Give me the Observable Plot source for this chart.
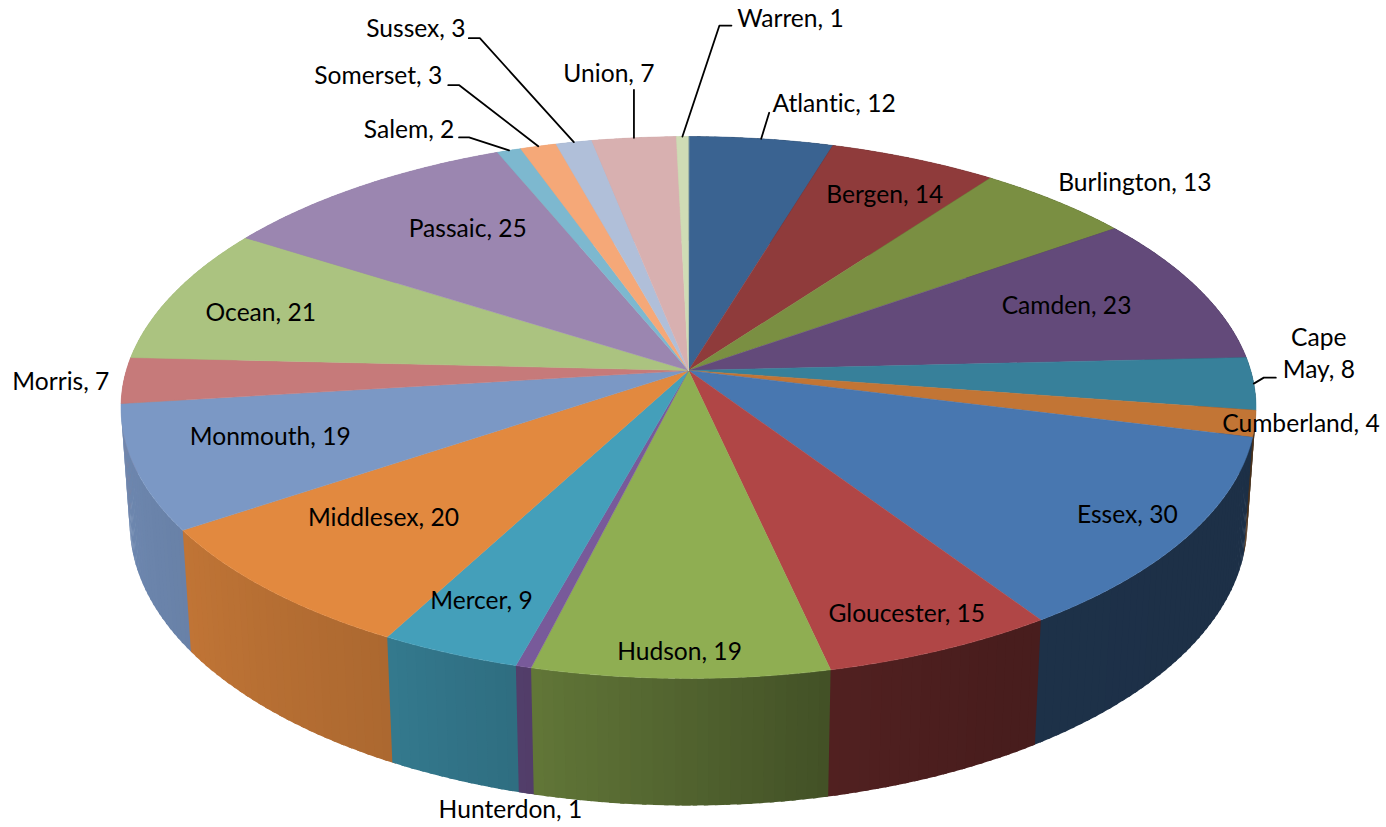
<!DOCTYPE html>
<html><head><meta charset="utf-8">
<style>html,body{margin:0;padding:0;background:#fff}svg{display:block}svg text{font-variant-ligatures:none}</style>
<script src="https://cdn.jsdelivr.net/npm/d3@7"></script>
<script src="https://cdn.jsdelivr.net/npm/@observablehq/plot@0.6"></script>
</head><body>
<script>
const counties = ["Atlantic","Bergen","Burlington","Camden","Cape May","Cumberland","Essex","Gloucester","Hudson","Hunterdon","Mercer","Middlesex","Monmouth","Morris","Ocean","Passaic","Salem","Somerset","Sussex","Union","Warren"];
const counts = [12,14,13,23,8,4,30,15,19,1,9,20,19,7,21,25,2,3,3,7,1];
const colors = ["#3a6391","#8f3b3b","#7a8f42","#634a7a","#37809a","#c27535","#4877b0","#b04646","#8fae52","#785a9a","#449fba","#e2893f","#7b98c5","#c67a7a","#abc380","#9b86b0","#7db8cf","#f5a878","#b0bfd9","#d8b0b0","#cfdcb5"];
// label placement, as an offset from the rim point at each slice's middle
const labelDx = [73,-29,79,-131,65,46,-60,-35,-1,-13,32,115,135,-63,87,107,-100,-160,-158,-25,108];
const labelDy = [-37,34,-20,16,-32,-2,-24,-38,-29,141,-54,-74,-33,-1,17,40,-23,-72,-115,-66,-120];
const labelLines = {"Cape May":"Cape\nMay"};
// leader lines: county, then elbow and end offsets from the rim point
const leaderCounties = ["Atlantic","Cape May","Salem","Somerset","Sussex","Union","Warren"];
const leaderElbowDx = [8,10,-40,-79,-94,0,37];
const leaderElbowDy = [-26,-6,-13,-61,-104,-48,-111];
const leaderEndDx = [8,22,-50,-90,-105,0,49];
const leaderEndDy = [-26,-6,-13,-61,-104,-48,-111];
// wall shading by angle round the pie
const shadeAngles = [0,100,150,167,194,208,236,262,360];
const shadeLevels = [.4,.4,.41,.46,.68,.76,.85,.9,.9];

const total = d3.sum(counts);
const cum = d3.cumsum(counts);
const cx = 688, cy = 370, R = 562.2, B = 265.9, k = 0.1365, lam = 0.01525, vpx = 688, vpy = 8000;
function project(deg, r = 1, depth = 0) {
  const a = deg * Math.PI / 180, u = r * Math.sin(a), v = -r * Math.cos(a), w = 1 - k * v;
  const l = depth * lam;
  return [(cx * w + R * u + vpx * l) / (w + l), (cy * w + B * v + vpy * l) / (w + l)];
}
const shade = d3.scaleLinear(shadeAngles, shadeLevels);
const slices = counties.map((name, i) => {
  const end = cum[i] / total * 360, start = (cum[i] - counts[i]) / total * 360;
  return {name, value: counts[i], color: colors[i], start, end, mid: (start + end) / 2, i};
});
const faces = [], strips = [];
for (const s of slices) {
  const steps = Math.max(2, Math.ceil((s.end - s.start)));
  const z = "t" + s.i;
  faces.push({x: cx, y: cy, z, c: s.color});
  for (let j = 0; j <= steps; j++) {
    const [x, y] = project(s.start + (s.end - s.start) * j / steps);
    faces.push({x, y, z, c: s.color});
  }
  for (let j = 0; j < steps; j++) {
    const a0 = s.start + (s.end - s.start) * j / steps, a1 = s.start + (s.end - s.start) * (j + 1) / steps;
    const c = d3.color(s.color);
    const f = shade((a0 + a1) / 2);
    strips.push({a0, a1, wz: `w${s.i}_${j}`, col: d3.rgb(c.r * f, c.g * f, c.b * f).formatHex(), depth: -Math.cos((a0 + a1) / 360 * Math.PI)});
  }
}
// back walls first; each strip reaches slightly under the nearer strip painted after it
const walls = d3.sort(strips, d => d.depth).flatMap(st => {
  const front = st.a0 + st.a1 > 360;
  const a0 = front ? st.a0 - 0.4 : st.a0, a1 = front ? st.a1 : st.a1 + 0.4;
  return [[a0,0],[a1,0],[a1,1],[a0,1]].map(([a, d]) => {
    const [x, y] = project(a, 1, d);
    return {x, y, z: st.wz, c: st.col};
  });
});
const labels = slices.map((s, i) => {
  const [x, y] = project(s.mid);
  return {x: x + labelDx[i], y: y + labelDy[i], t: `${labelLines[s.name] || s.name}, ${s.value}`};
});
const leaders = leaderCounties.flatMap((name, i) => {
  const s = slices.find(d => d.name === name);
  const [x, y] = project(s.mid);
  return [[x, y], [x + leaderElbowDx[i], y + leaderElbowDy[i]], [x + leaderEndDx[i], y + leaderEndDy[i]]].map(p => ({x: p[0], y: p[1], z: name}));
});
const chart = Plot.plot({
  width: 1386, height: 827, margin: 0,
  x: {domain: [0, 1386], range: [0, 1386], axis: null},
  y: {domain: [0, 827], range: [0, 827], axis: null},
  color: {type: "identity"},
  style: {background: "#fff"},
  marks: [
    Plot.line(walls, {x: "x", y: "y", z: "z", fill: "c", stroke: "none", curve: "linear-closed"}),
    Plot.line(faces, {x: "x", y: "y", z: "z", fill: "c", stroke: "c", strokeWidth: 0.5, curve: "linear-closed"}),
    Plot.line(leaders, {x: "x", y: "y", z: "z", stroke: "#000", strokeWidth: 1.8, curve: "linear"}),
    Plot.text(labels, {x: "x", y: "y", text: "t", fill: "#000", fontSize: 24.6, lineHeight: 1.3, fontFamily: "Lato, Carlito, sans-serif", textAnchor: "middle", lineAnchor: "middle"})
  ]
});
document.body.appendChild(chart);
</script>
</body></html>
